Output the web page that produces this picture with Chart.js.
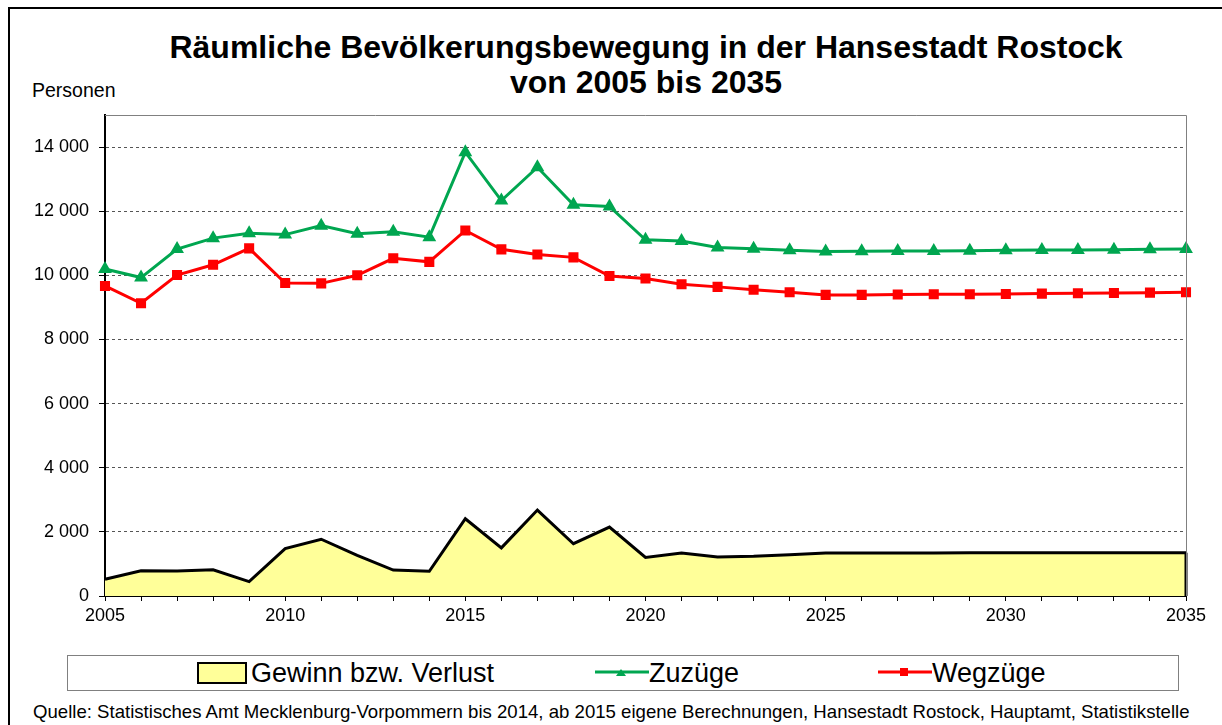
<!DOCTYPE html>
<html lang="de">
<head>
<meta charset="utf-8">
<script src="https://cdn.jsdelivr.net/npm/chart.js@4.4.1/dist/chart.umd.min.js"></script>
<style>
    body { margin: 0; width: 1222px; height: 725px; overflow: hidden; background: #fff; font-family: "Liberation Sans", Arial, sans-serif; position: relative; }
    #frame { position: absolute; left: 8px; top: 7px; width: 1240px; height: 740px; border: 2px solid #000; }
    #title { position: absolute; left: 0; width: 1292px; top: 30px; text-align: center; font-weight: bold; font-size: 32px; line-height: 35px; color: #000; }
    #yunit { position: absolute; left: 32px; top: 79px; font-size: 19.5px; color: #000; }
    #chartBox { position: absolute; left: 0; top: 0; width: 1222px; height: 640px; }
    #legend { position: absolute; left: 67px; top: 655px; width: 1110px; height: 34px; border: 1px solid #808080; }
    .item { position: absolute; top: 0; height: 34px; display: flex; align-items: center; font-size: 27px; color: #000; }
    .swatch { width: 46px; height: 18px; background: #ffff99; border: 2px solid #000; margin-right: 4px; }
    #source { position: absolute; left: 33px; top: 701px; font-size: 18.6px; color: #000; white-space: nowrap; }
</style>
</head>
<body>
<div id="frame"></div>
<div id="title">Räumliche Bevölkerungsbewegung in der Hansestadt Rostock<br>von 2005 bis 2035</div>
<div id="yunit">Personen</div>
<div id="chartBox"><canvas id="rostockChart"></canvas></div>
<div id="legend"></div>
<div id="source">Quelle: Statistisches Amt Mecklenburg-Vorpommern bis 2014, ab 2015 eigene Berechnungen, Hansestadt Rostock, Hauptamt, Statistikstelle</div>

<script>
// --- Daten ---
const jahre = [
    '2005', '2006', '2007', '2008', '2009', '2010', '2011', '2012', '2013', '2014',
    '2015', '2016', '2017', '2018', '2019', '2020', '2021', '2022', '2023', '2024',
    '2025', '2026', '2027', '2028', '2029', '2030', '2031', '2032', '2033', '2034', '2035'
];
const gewinn = [520, 790, 780, 820, 450, 1480, 1770, 1270, 810, 770,
    2410, 1500, 2680, 1630, 2150, 1200, 1340, 1220, 1240, 1290,
    1340, 1340, 1340, 1340, 1350, 1350, 1350, 1350, 1350, 1350, 1350];
const zuzuege = [10200, 9930, 10820, 11160, 11310, 11270, 11550, 11300, 11360, 11190,
    13840, 12330, 13370, 12200, 12150, 11110, 11070, 10870, 10830, 10780,
    10740, 10750, 10760, 10760, 10770, 10780, 10790, 10790, 10800, 10810, 10820];
const wegzuege = [9670, 9130, 10010, 10330, 10840, 9760, 9750, 10000, 10530, 10420,
    11400, 10810, 10650, 10560, 9980, 9900, 9720, 9640, 9550, 9470,
    9390, 9390, 9400, 9410, 9410, 9420, 9430, 9440, 9450, 9460, 9470];
const yTicks = [0, 2000, 4000, 6000, 8000, 10000, 12000, 14000];

const fmt = v => String(v).replace(/\B(?=(\d{3})+(?!\d))/g, ' ');

// Rahmen des Diagrammbereichs + geschlossene Kontur der Flaeche
const framePlugin = {
    id: 'framePlugin',
    afterDatasetsDraw(chart) {
        const { ctx } = chart;
        const meta = chart.getDatasetMeta(0);
        const last = meta.data[meta.data.length - 1];
        const y0 = chart.scales.y.getPixelForValue(0);
        ctx.save();
        ctx.strokeStyle = '#000';
        ctx.lineWidth = 3;
        ctx.beginPath();
        ctx.moveTo(last.x, last.y);
        ctx.lineTo(last.x, y0);
        ctx.stroke();
        ctx.restore();
    },
    afterDraw(chart) {
        const { ctx, chartArea: a } = chart;
        ctx.save();
        ctx.strokeStyle = '#808080';
        ctx.lineWidth = 1;
        ctx.beginPath();
        ctx.moveTo(a.left, a.top + 0.5);
        ctx.lineTo(a.right + 0.5, a.top + 0.5);
        ctx.lineTo(a.right + 0.5, a.bottom);
        ctx.stroke();
        ctx.restore();
    }
};

const chart = new Chart(document.getElementById('rostockChart'), {
    type: 'line',
    data: {
        labels: jahre,
        datasets: [
            {
                label: 'Gewinn bzw. Verlust',
                data: gewinn,
                borderColor: '#000',
                backgroundColor: '#ffff99',
                borderWidth: 3,
                pointRadius: 0,
                fill: 'origin',
                tension: 0,
                order: 3
            },
            {
                label: 'Zuzüge',
                data: zuzuege,
                borderColor: '#00a650',
                backgroundColor: '#00a650',
                borderWidth: 3,
                pointStyle: 'triangle',
                pointRadius: 5,
                fill: false,
                tension: 0,
                order: 2
            },
            {
                label: 'Wegzüge',
                data: wegzuege,
                borderColor: '#ff0000',
                backgroundColor: '#ff0000',
                borderWidth: 3,
                pointStyle: 'rect',
                pointRadius: 5,
                fill: false,
                tension: 0,
                order: 1
            }
        ]
    },
    options: {
        responsive: true,
        maintainAspectRatio: false,
        animation: false,
        layout: { padding: { left: 0, top: 115, right: 36, bottom: 14 } },
        plugins: {
            legend: { display: false },
            title: { display: false },
            tooltip: { enabled: false }
        },
        scales: {
            x: {
                offset: false,
                afterFit: s => { s.height = 30; },
                grid: { drawOnChartArea: false, drawTicks: true, tickLength: 5, color: '#000', tickColor: '#000' },
                border: { color: '#000', width: 2 },
                ticks: {
                    autoSkip: false,
                    maxRotation: 0,
                    padding: 4,
                    color: '#000',
                    font: { family: '"Liberation Sans", Arial, sans-serif', size: 18 },
                    callback: function (value, index) {
                        const y = Number(jahre[index]);
                        return y % 5 === 0 ? jahre[index] : '';
                    }
                }
            },
            y: {
                min: 0,
                max: 15000,
                afterFit: s => { s.width = 105; },
                afterBuildTicks: s => { s.ticks = yTicks.map(v => ({ value: v })); },
                grid: { color: ctx => ctx.tick && ctx.tick.value === 0 ? 'rgba(0,0,0,0)' : '#555', tickColor: '#000', tickLength: 6, lineWidth: 1 },
                border: { color: '#000', width: 2, dash: [3, 3] },
                ticks: {
                    padding: 10,
                    color: '#000',
                    font: { family: '"Liberation Sans", Arial, sans-serif', size: 18 },
                    callback: v => fmt(v)
                }
            }
        }
    },
    plugins: [framePlugin]
});

// --- Legende aus den Datensaetzen ---
const legendEl = document.getElementById('legend');
const legendPos = [129, 527, 810];
chart.data.datasets.forEach((ds, i) => {
    const item = document.createElement('div');
    item.className = 'item';
    item.style.left = legendPos[i] + 'px';
    if (i === 0) {
        item.innerHTML = `<div class="swatch"></div><span>${ds.label}</span>`;
    } else {
        const marker = i === 1
            ? `<polygon points="26,9 21,16 31,16" fill="${ds.borderColor}"/>`
            : `<rect x="22" y="8" width="8" height="8" fill="${ds.borderColor}"/>`;
        item.innerHTML = `<svg width="54" height="24" viewBox="0 0 54 24" style="margin-top:-2px"><line x1="0" y1="12" x2="54" y2="12" stroke="${ds.borderColor}" stroke-width="3"/>${marker}</svg><span>${ds.label}</span>`;
    }
    legendEl.appendChild(item);
});
</script>
</body>
</html>
